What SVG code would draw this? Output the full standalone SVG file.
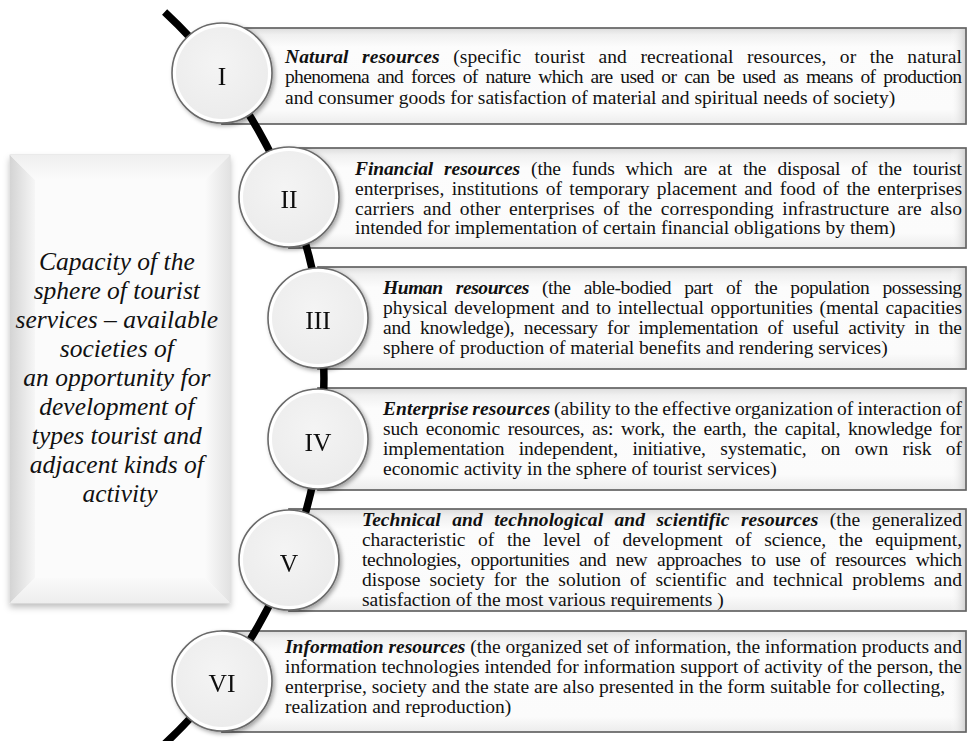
<svg xmlns="http://www.w3.org/2000/svg" width="967" height="741" viewBox="0 0 967 741">
  <defs>
    <style>
      .panel { stroke: #636363; stroke-width: 1.7; fill: url(#panelFill); }
      .panel-edge { fill: url(#panelEdge); }
      .body { font-family: "Liberation Serif", "Times New Roman", serif; font-size: 19.5px; fill: #111111; }
      .title { font-weight: bold; font-style: italic; }
      .num { font-family: "Liberation Serif", "Times New Roman", serif; font-size: 25.5px; fill: #111111; text-anchor: middle; }
      .ring { fill: #ffffff; stroke: #6a6a6a; stroke-width: 1.6; }
      .disc { fill: url(#discFill); }
      .side-text { font-family: "Liberation Serif", "Times New Roman", serif; font-size: 25.5px; font-style: italic; fill: #111111; text-anchor: middle; }
      .spine { fill: none; stroke: #000000; stroke-width: 7.5; }
    </style>
    <linearGradient id="panelFill" x1="0" y1="0" x2="0" y2="1">
      <stop offset="0" stop-color="#dcdcdc"/>
      <stop offset="0.07" stop-color="#f0f0f0"/>
      <stop offset="0.2" stop-color="#fcfcfc"/>
      <stop offset="0.85" stop-color="#fbfbfb"/>
      <stop offset="1" stop-color="#ececec"/>
    </linearGradient>
    <linearGradient id="panelEdge" x1="0" y1="0" x2="1" y2="0">
      <stop offset="0" stop-color="#ffffff" stop-opacity="0"/>
      <stop offset="1" stop-color="#d4d4d4"/>
    </linearGradient>
    <radialGradient id="discFill" cx="0.45" cy="0.4" r="0.65">
      <stop offset="0" stop-color="#f4f4f4"/>
      <stop offset="1" stop-color="#ebebeb"/>
    </radialGradient>
    <linearGradient id="bevelLeft" x1="0" y1="0" x2="1" y2="0">
      <stop offset="0" stop-color="#d4d4d4"/>
      <stop offset="1" stop-color="#f6f6f6"/>
    </linearGradient>
    <linearGradient id="bevelTop" x1="0" y1="0" x2="0" y2="1">
      <stop offset="0" stop-color="#efefef"/>
      <stop offset="1" stop-color="#fbfbfb"/>
    </linearGradient>
    <linearGradient id="bevelRight" x1="0" y1="0" x2="1" y2="0">
      <stop offset="0" stop-color="#fbfbfb"/>
      <stop offset="1" stop-color="#e2e2e2"/>
    </linearGradient>
    <linearGradient id="bevelBottom" x1="0" y1="0" x2="0" y2="1">
      <stop offset="0" stop-color="#fafafa"/>
      <stop offset="1" stop-color="#ededed"/>
    </linearGradient>
    <filter id="softShadow" x="-20%" y="-20%" width="140%" height="140%">
      <feDropShadow dx="2" dy="2" stdDeviation="2" flood-color="#000000" flood-opacity="0.35"/>
    </filter>
    <filter id="cardShadow" x="-10%" y="-5%" width="120%" height="112%">
      <feDropShadow dx="0" dy="4" stdDeviation="3" flood-color="#000000" flood-opacity="0.25"/>
    </filter>
  </defs>

  <rect width="967" height="741" fill="#ffffff"/>

  <!-- Summary card on the left -->
  <g id="capacity">
    <g filter="url(#cardShadow)">
      <rect x="10" y="155" width="220" height="448" fill="#fbfbfb" stroke="#d0d0d0" stroke-width="0.8"/>
    </g>
    <polygon points="10,155 35,180 35,578 10,603" fill="url(#bevelLeft)"/>
    <polygon points="10,155 230,155 205,180 35,180" fill="url(#bevelTop)"/>
    <polygon points="230,155 230,603 205,578 205,180" fill="url(#bevelRight)"/>
    <polygon points="10,603 35,578 205,578 230,603" fill="url(#bevelBottom)"/>
    <text class="side-text" x="120">
      <tspan x="120" y="270">Capacity of the</tspan>
      <tspan x="120" y="299">sphere of tourist</tspan>
      <tspan x="120" y="328">services – available</tspan>
      <tspan x="120" y="357">societies of</tspan>
      <tspan x="120" y="386">an opportunity for</tspan>
      <tspan x="120" y="415">development of</tspan>
      <tspan x="120" y="444">types tourist and</tspan>
      <tspan x="120" y="473">adjacent kinds of</tspan>
      <tspan x="120" y="502">activity</tspan>
    </text>
  </g>

  <!-- Resource panels (justified lines: word gap + exact line length) -->
  <g id="res-1">
    <rect class="panel" x="222" y="28" width="744" height="96"/>
    <rect class="panel-edge" x="950" y="29" width="15" height="94"/>
    <text class="body" x="285" y="62.5" word-spacing="8.5" textLength="677" lengthAdjust="spacing"><tspan class="title">Natural resources</tspan> (specific tourist and recreational resources, or the natural</text>
    <text class="body" x="285" y="83" word-spacing="3.6" textLength="677" lengthAdjust="spacing">phenomena and forces of nature which are used or can be used as means of production</text>
    <text class="body" x="285" y="103.5">and consumer goods for satisfaction of material and spiritual needs of society)</text>
  </g>

  <g id="res-2">
    <rect class="panel" x="289" y="148" width="677" height="100"/>
    <rect class="panel-edge" x="950" y="149" width="15" height="98"/>
    <text class="body" x="355" y="175" word-spacing="6.2" textLength="607" lengthAdjust="spacing"><tspan class="title">Financial resources</tspan> (the funds which are at the disposal of the tourist</text>
    <text class="body" x="355" y="195" word-spacing="2.5" textLength="607" lengthAdjust="spacing">enterprises, institutions of temporary placement and food of the enterprises</text>
    <text class="body" x="355" y="214.5" word-spacing="3.4" textLength="607" lengthAdjust="spacing">carriers and other enterprises of the corresponding infrastructure are also</text>
    <text class="body" x="355" y="234">intended for implementation of certain financial obligations by them)</text>
  </g>

  <g id="res-3">
    <rect class="panel" x="318" y="267" width="648" height="102"/>
    <rect class="panel-edge" x="950" y="268" width="15" height="100"/>
    <text class="body" x="383" y="294" word-spacing="8.8" textLength="579" lengthAdjust="spacing"><tspan class="title">Human resources</tspan> (the able-bodied part of the population possessing</text>
    <text class="body" x="383" y="314" word-spacing="1.8" textLength="579" lengthAdjust="spacing">physical development and to intellectual opportunities (mental capacities</text>
    <text class="body" x="383" y="334" word-spacing="4.7" textLength="579" lengthAdjust="spacing">and knowledge), necessary for implementation of useful activity in the</text>
    <text class="body" x="383" y="354">sphere of production of material benefits and rendering services)</text>
  </g>

  <g id="res-4">
    <rect class="panel" x="318" y="388" width="648" height="102"/>
    <rect class="panel-edge" x="950" y="389" width="15" height="100"/>
    <text class="body" x="383" y="415" word-spacing="-1" textLength="579" lengthAdjust="spacing"><tspan class="title">Enterprise resources</tspan> (ability to the effective organization of interaction of</text>
    <text class="body" x="383" y="435" word-spacing="2.9" textLength="579" lengthAdjust="spacing">such economic resources, as: work, the earth, the capital, knowledge for</text>
    <text class="body" x="383" y="455" word-spacing="9.6" textLength="579" lengthAdjust="spacing">implementation independent, initiative, systematic, on own risk of</text>
    <text class="body" x="383" y="475">economic activity in the sphere of tourist services)</text>
  </g>

  <g id="res-5">
    <rect class="panel" x="289" y="509" width="677" height="102"/>
    <rect class="panel-edge" x="950" y="510" width="15" height="100"/>
    <text class="body" x="362" y="525.5" word-spacing="6.5" textLength="600" lengthAdjust="spacing"><tspan class="title">Technical and technological and scientific resources</tspan> (the generalized</text>
    <text class="body" x="362" y="546" word-spacing="7.8" textLength="600" lengthAdjust="spacing">characteristic of the level of development of science, the equipment,</text>
    <text class="body" x="362" y="566" word-spacing="5.2" textLength="600" lengthAdjust="spacing">technologies, opportunities and new approaches to use of resources which</text>
    <text class="body" x="362" y="586" word-spacing="4.2" textLength="600" lengthAdjust="spacing">dispose society for the solution of scientific and technical problems and</text>
    <text class="body" x="362" y="606">satisfaction of the most various requirements )</text>
  </g>

  <g id="res-6">
    <rect class="panel" x="222" y="631" width="744" height="101"/>
    <rect class="panel-edge" x="950" y="632" width="15" height="99"/>
    <text class="body" x="285" y="653" textLength="677" lengthAdjust="spacing"><tspan class="title">Information resources</tspan> (the organized set of information, the information products and</text>
    <text class="body" x="285" y="673" textLength="677" lengthAdjust="spacing">information technologies intended for information support of activity of the person, the</text>
    <text class="body" x="285" y="693">enterprise, society and the state are also presented in the form suitable for collecting,</text>
    <text class="body" x="285" y="713">realization and reproduction)</text>
  </g>

  <!-- Curved spine linking the numbered badges -->
  <g id="connectors">
    <path class="spine" d="M 164.6,12 A 500 500 0 0 1 163.5,745"/>
  </g>

  <!-- Numbered badges -->
  <g id="badge-1" filter="url(#softShadow)">
    <circle class="ring" cx="222" cy="73" r="50"/>
    <circle class="disc" cx="222" cy="73" r="46"/>
    <text class="num" x="222" y="84.5">I</text>
  </g>
  <g id="badge-2" filter="url(#softShadow)">
    <circle class="ring" cx="289" cy="197" r="50"/>
    <circle class="disc" cx="289" cy="197" r="46"/>
    <text class="num" x="289" y="207.5">II</text>
  </g>
  <g id="badge-3" filter="url(#softShadow)">
    <circle class="ring" cx="318" cy="318" r="50"/>
    <circle class="disc" cx="318" cy="318" r="46"/>
    <text class="num" x="318" y="328.5">III</text>
  </g>
  <g id="badge-4" filter="url(#softShadow)">
    <circle class="ring" cx="318" cy="439" r="50"/>
    <circle class="disc" cx="318" cy="439" r="46"/>
    <text class="num" x="318" y="450.5">IV</text>
  </g>
  <g id="badge-5" filter="url(#softShadow)">
    <circle class="ring" cx="289" cy="560" r="50"/>
    <circle class="disc" cx="289" cy="560" r="46"/>
    <text class="num" x="289" y="572">V</text>
  </g>
  <g id="badge-6" filter="url(#softShadow)">
    <circle class="ring" cx="222" cy="681" r="50"/>
    <circle class="disc" cx="222" cy="681" r="46"/>
    <text class="num" x="222" y="691.5">VI</text>
  </g>
</svg>
